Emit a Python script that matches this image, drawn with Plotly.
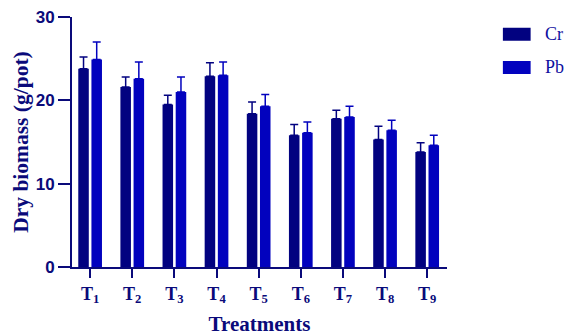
import plotly.graph_objects as go

treatments = ["T<sub>1</sub>", "T<sub>2</sub>", "T<sub>3</sub>", "T<sub>4</sub>", "T<sub>5</sub>",
              "T<sub>6</sub>", "T<sub>7</sub>", "T<sub>8</sub>", "T<sub>9</sub>"]
cr_values = [23.8, 21.6, 19.5, 22.9, 18.4, 15.8, 17.8, 15.3, 13.8]
cr_errors = [1.4, 1.2, 1.1, 1.6, 1.4, 1.3, 1.0, 1.6, 1.1]
pb_values = [24.9, 22.6, 21.0, 23.0, 19.3, 16.1, 18.0, 16.4, 14.6]
pb_errors = [2.1, 2.0, 1.8, 1.6, 1.4, 1.3, 1.3, 1.2, 1.2]
y_ticks = [0, 10, 20, 30]

navy = "#020280"
blue = "#0202BE"
axis_col = "#0A0A7A"

fig = go.Figure()
fig.add_trace(go.Bar(
    x=treatments, y=cr_values, name="Cr",
    marker=dict(color=navy, line=dict(width=0)),
    error_y=dict(type="data", array=cr_errors, arrayminus=[0]*9, symmetric=False,
                 color=navy, thickness=1.5, width=4),
))
fig.add_trace(go.Bar(
    x=treatments, y=pb_values, name="Pb",
    marker=dict(color=blue, line=dict(width=0)),
    error_y=dict(type="data", array=pb_errors, arrayminus=[0]*9, symmetric=False,
                 color=blue, thickness=1.5, width=4),
))

# custom legend
legend_items = [("Cr", navy, 0.957, 0.905), ("Pb", blue, 0.824, 0.772)]
shapes = []
annotations = []
for name, col, y1, y0 in legend_items:
    shapes.append(dict(type="rect", xref="paper", yref="paper", x0=1.149, x1=1.223,
                       y0=y0, y1=y1, fillcolor=col, line=dict(width=0)))
    annotations.append(dict(xref="paper", yref="paper", x=1.255, y=(y0 + y1) / 2,
                            text=name, showarrow=False, xanchor="left", yanchor="middle",
                            font=dict(family="Liberation Serif", size=18, color="#1010A0")))

fig.update_layout(
    width=567, height=336,
    margin=dict(l=72, r=120, t=17, b=69),
    plot_bgcolor="white", paper_bgcolor="white",
    barmode="group", bargap=0.375, bargroupgap=0.2,
    showlegend=False,
    shapes=shapes, annotations=annotations,
    xaxis=dict(
        range=[-0.43, 8.47], automargin=False, ticklabeloverflow="allow",
        showline=True, linecolor=axis_col, linewidth=2,
        ticks="outside", ticklen=9, tickwidth=2, tickcolor=axis_col,
        tickfont=dict(family="Liberation Serif", size=18, color=axis_col, weight="bold"),
        title=dict(text="<b>Treatments</b>", standoff=13,
                   font=dict(family="Liberation Serif", size=21, color=axis_col)),
        showgrid=False, zeroline=False,
    ),
    yaxis=dict(
        range=[0, 30], tickvals=y_ticks, automargin=False, ticklabeloverflow="allow",
        showline=True, linecolor=axis_col, linewidth=2,
        ticks="outside", ticklen=12, tickwidth=2, tickcolor=axis_col,
        tickfont=dict(family="Liberation Sans", size=17, color=axis_col, weight="bold"),
        title=dict(text="<b>Dry biomass (g/pot)</b>", standoff=1,
                   font=dict(family="Liberation Serif", size=21.5, color=axis_col)),
        showgrid=False, zeroline=False,
    ),
)

fig.write_html(
    "out.html",
    config={"displayModeBar": False},
    post_script="document.documentElement.style.overflow='hidden';"
                "document.body.style.margin='0';document.body.style.overflow='hidden';",
)
